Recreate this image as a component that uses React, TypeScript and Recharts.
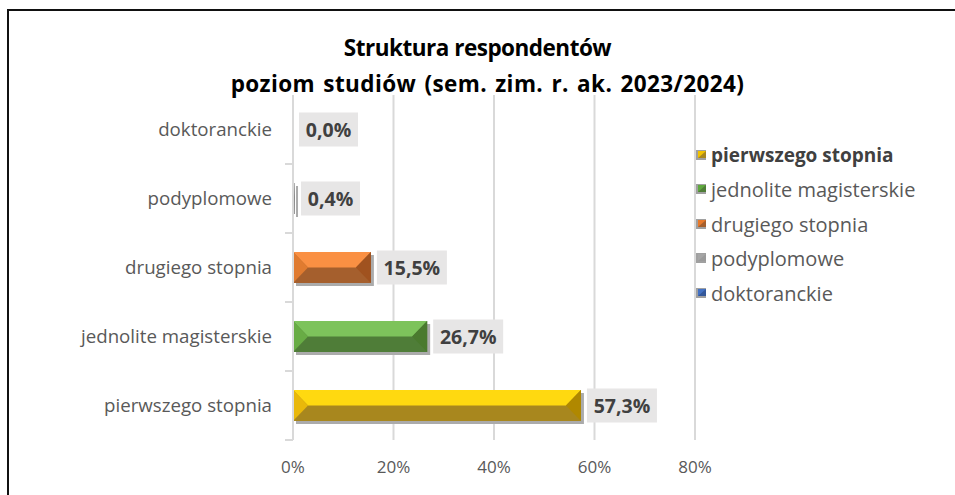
import React from 'react';
import { BarChart, Bar, XAxis, YAxis, CartesianGrid, LabelList, Legend } from 'recharts';

const categories = ['doktoranckie', 'podyplomowe', 'drugiego stopnia', 'jednolite magisterskie', 'pierwszego stopnia'];
const values = [0.0, 0.4, 15.5, 26.7, 57.3];
const xTicks = [0, 20, 40, 60, 80];
const legendOrder = ['pierwszego stopnia', 'jednolite magisterskie', 'drugiego stopnia', 'podyplomowe', 'doktoranckie'];
const titleLines = ['Struktura respondentów', 'poziom studiów (sem. zim. r. ak. 2023/2024)'];

type Pal = { top: string; left: string; right: string; bottom: string; marker: string };
const palette: Record<string, Pal> = {
  'pierwszego stopnia': { top: '#FFD910', left: '#E9B80A', right: '#B08800', bottom: '#A8871E', marker: '#F2C200' },
  'jednolite magisterskie': { top: '#7DC35B', left: '#68AC45', right: '#4A7A2E', bottom: '#4F7D38', marker: '#5FA83E' },
  'drugiego stopnia': { top: '#FA9043', left: '#E07B30', right: '#A0521F', bottom: '#A55F2D', marker: '#E87A2C' },
  'podyplomowe': { top: '#B5B5B5', left: '#A5A5A5', right: '#8A8A8A', bottom: '#9A9A9A', marker: '#A5A5A5' },
  'doktoranckie': { top: '#5B87D6', left: '#4472C4', right: '#2F5597', bottom: '#34589A', marker: '#4472C4' },
};

const data = categories.map((name, i) => ({ name, value: values[i] }));

const FONT = '"Open Sans", "Noto Sans", sans-serif';

const BevelBar = (props: any) => {
  const { x, y, width, height, index, payload } = props;
  const name = (payload && payload.name) || categories[index];
  const c = palette[name];
  if (!c || !(width > 0)) return null;
  const d = Math.min(height / 2, width / 2, 15);
  const ym = y + height / 2;
  const x1 = x + width;
  const y1 = y + height;
  return (
    <g>
      <rect x={x + 3} y={y + 3} width={width} height={height} fill="#ABABAB" />
      <rect x={x} y={y} width={width} height={height} fill={c.bottom} />
      <polygon points={`${x},${y} ${x1},${y} ${x1 - d},${ym} ${x + d},${ym}`} fill={c.top} />
      <polygon points={`${x},${y} ${x + d},${ym} ${x},${y1}`} fill={c.left} />
      <polygon points={`${x1},${y} ${x1 - d},${ym} ${x1},${y1}`} fill={c.right} />
    </g>
  );
};

const renderLabel = (props: any) => {
  const { x, y, width, height, value } = props;
  const text = Number(value).toFixed(1).replace('.', ',') + '%';
  const bw = 15 + 11 * text.length;
  const bx = x + (width > 0 ? width : 0) + 6;
  const cy = y + height / 2;
  return (
    <g>
      <rect x={bx} y={cy - 17} width={bw} height={34} fill="#E7E6E6" />
      <text x={bx + bw / 2} y={cy} dy="0.36em" textAnchor="middle" fontWeight="bold" fontSize={19.5} fill="#404040" fontFamily={FONT}>
        {text}
      </text>
    </g>
  );
};

const YTick = (props: any) => {
  const { x, y, payload, visibleTicksCount, height } = props;
  const band = height && visibleTicksCount ? height / visibleTicksCount : 0;
  const lx = x + 13;
  return (
    <g>
      <text x={x} y={y} dy="0.36em" textAnchor="end" fontSize={18.7} fill="#595959" fontFamily={FONT}>
        {payload.value}
      </text>
      {band > 0 && (
        <line x1={lx} x2={lx + 8} y1={y + band / 2} y2={y + band / 2} stroke="#D9D9D9" strokeWidth={2} />
      )}
    </g>
  );
};

const LegendContent = () => (
  <div style={{ display: 'flex', flexDirection: 'column', fontFamily: FONT }}>
    {legendOrder.map((n, i) => (
      <div
        key={n}
        style={{
          height: 34.5,
          display: 'flex',
          alignItems: 'center',
          fontSize: i === 0 ? 19 : 20,
          color: i === 0 ? '#404040' : '#595959',
          fontWeight: i === 0 ? 'bold' : 'normal',
          whiteSpace: 'nowrap',
        }}
      >
        <svg width={12} height={11} style={{ marginRight: 3, flex: 'none' }}>
          <rect x={0} y={0} width={10} height={10} fill="#A0A0A0" />
          <polygon points="2,1 10,1 10,8 2,8" fill={palette[n].marker} />
          <polygon points="2,8 10,1 10,8" fill={palette[n].bottom} />
        </svg>
        <span>{n}</span>
      </div>
    ))}
  </div>
);

export default function App() {
  return (
    <div style={{ position: 'absolute', left: 0, top: 0, width: 955, height: 495, overflow: 'hidden', background: '#fff', fontFamily: FONT }}>
      <div
        style={{
          position: 'absolute',
          left: 7,
          top: 9,
          width: 980,
          height: 520,
          borderLeft: '2px solid #111',
          borderTop: '2px solid #111',
        }}
      />
      <div style={{ position: 'absolute', left: 0, top: 0 }}>
        <BarChart
          layout="vertical"
          width={955}
          height={495}
          data={data}
          margin={{ top: 95, right: 260, bottom: 25, left: 0 }}
        >
          <CartesianGrid horizontal={false} stroke="#D9D9D9" strokeWidth={2} />
          <XAxis
            type="number"
            domain={[0, 80]}
            ticks={xTicks}
            tickFormatter={(v: number) => `${v}%`}
            axisLine={false}
            tickLine={false}
            tickSize={6}
            tickMargin={15}
            height={30}
            tick={{ fill: '#595959', fontSize: 17, fontFamily: FONT }}
            interval={0}
          />
          <YAxis
            type="category"
            dataKey="name"
            width={293}
            axisLine={{ stroke: '#D9D9D9', strokeWidth: 2 }}
            tickLine={false}
            tickSize={8}
            tickMargin={13}
            tick={<YTick />}
            interval={0}
          />
          <Legend
            layout="vertical"
            align="center"
            verticalAlign="middle"
            content={<LegendContent />}
            wrapperStyle={{ left: 696, top: 138, width: 255 }}
          />
          <Bar dataKey="value" barSize={31} shape={<BevelBar />} isAnimationActive={false}>
            <LabelList dataKey="value" content={renderLabel} />
          </Bar>
        </BarChart>
      </div>
      <div style={{ position: 'absolute', left: 0, top: 33, width: 955, textAlign: 'center', fontWeight: 'bold', color: '#000', lineHeight: '30px', fontSize: 22.5 }}>
        <div style={{ position: 'relative', left: 0, letterSpacing: -0.5 }}>{titleLines[0]}</div>
        <div style={{ position: 'relative', left: 10, marginTop: 6, letterSpacing: 0.4, wordSpacing: 2 }}>{titleLines[1]}</div>
      </div>
    </div>
  );
}
